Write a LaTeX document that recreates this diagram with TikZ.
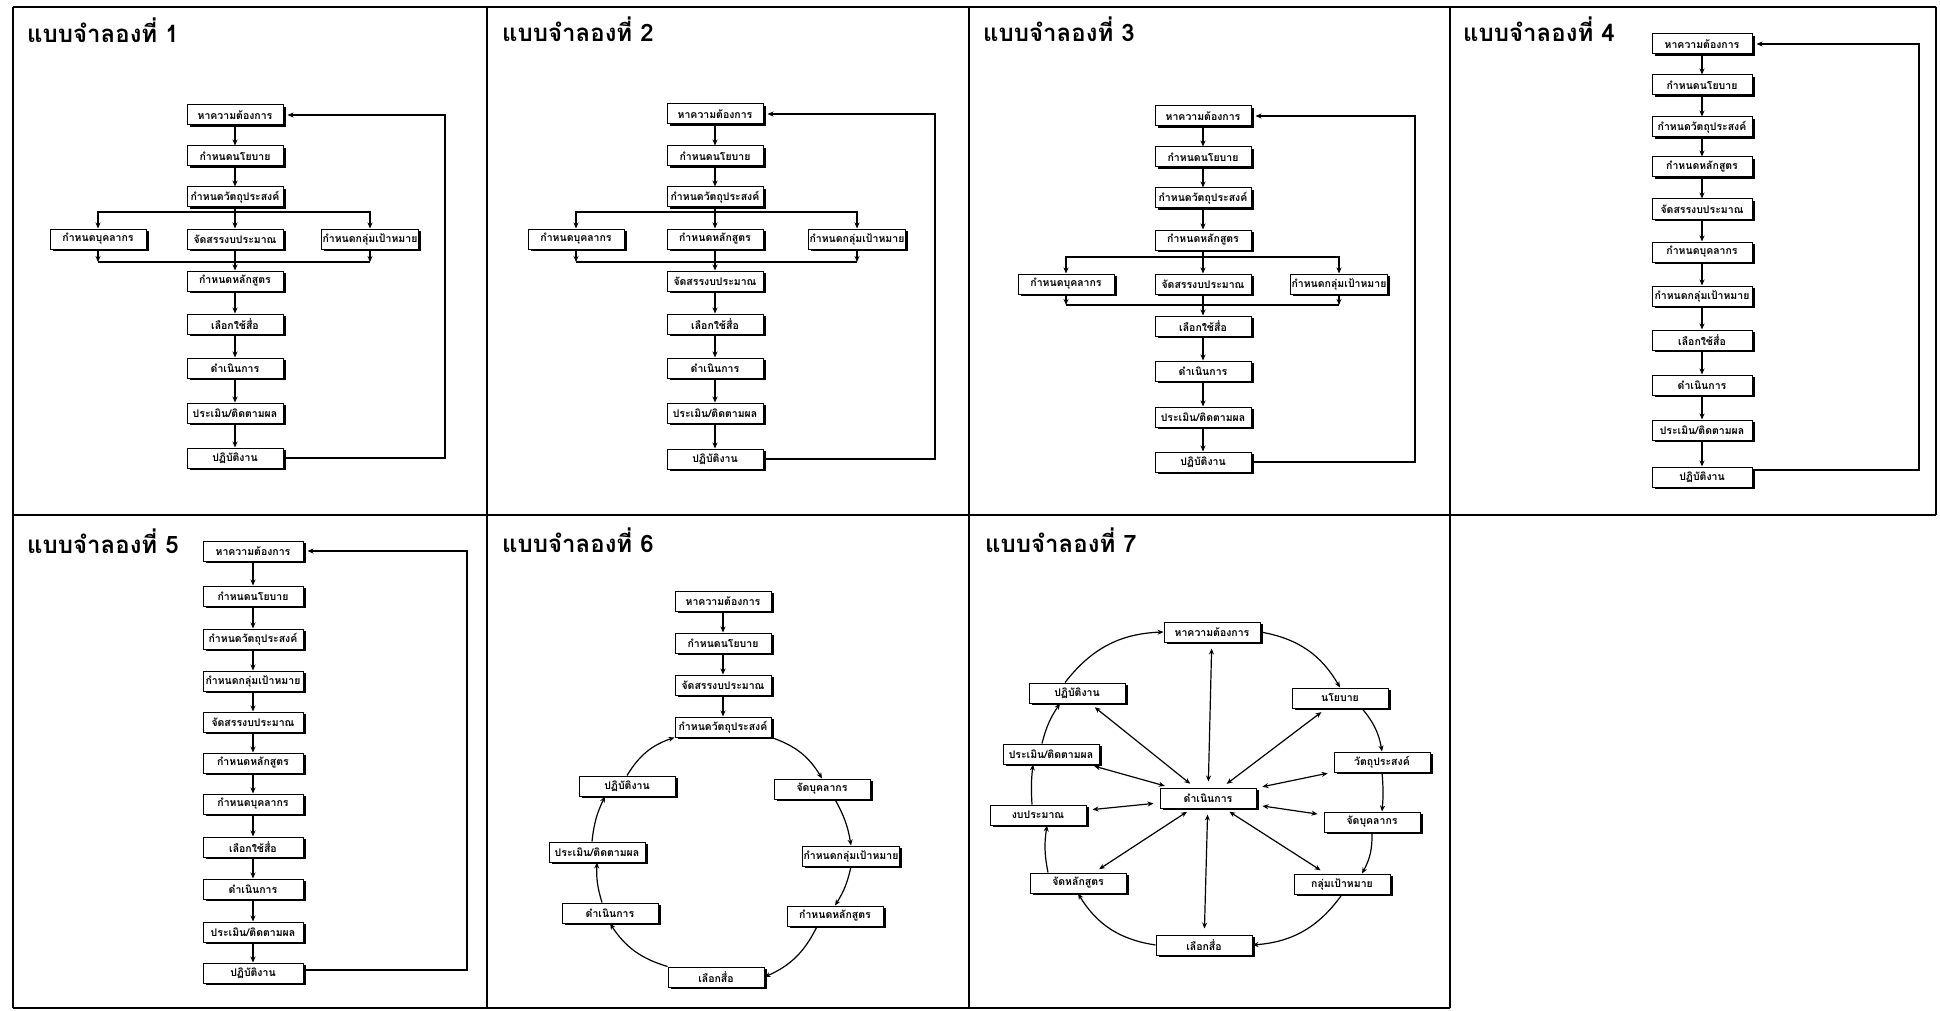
\documentclass[tikz,border=0pt]{standalone}
\usepackage{fontspec}
\newfontfamily\thai[Script=Thai]{Loma}
\usetikzlibrary{arrows.meta,shadows}
\newcommand\Lneed{หาความต้องการ}
\newcommand\Lpol{กำหนดนโยบาย}
\newcommand\Lobj{กำหนดวัตถุประสงค์}
\newcommand\Lper{กำหนดบุคลากร}
\newcommand\Lbud{จัดสรรงบประมาณ}
\newcommand\Ltgt{กำหนดกลุ่มเป้าหมาย}
\newcommand\Lcur{กำหนดหลักสูตร}
\newcommand\Lmed{เลือกใช้สื่อ}
\newcommand\Limp{ดำเนินการ}
\newcommand\Leva{ประเมิน/ติดตามผล}
\newcommand\Lact{ปฏิบัติงาน}
\tikzset{
 bx/.style={draw, line width=1pt, fill=white, minimum width=96pt, minimum height=20pt, inner sep=1pt,
   font=\thai\bfseries\fontsize{10.5}{12}\selectfont,
   drop shadow={shadow xshift=2.5pt, shadow yshift=-2pt, fill=black, opacity=1}},
 bxw/.style={bx, minimum width=100pt},
 ttl/.style={anchor=base west, inner sep=0pt, font=\thai\bfseries\fontsize{24}{28}\selectfont},
 ar/.style={-{Stealth[length=6pt,width=5pt]}, line width=1.2pt},
 fb/.style={ar, shorten >=4pt},
 ln/.style={line width=1.2pt},
 sp/.style={{Stealth[length=6pt,width=5pt]}-{Stealth[length=6pt,width=5pt]}, line width=1.2pt, shorten >=6pt, shorten <=6pt},
 cell/.style={line width=1.8pt},
}
\begin{document}
\begin{tikzpicture}[x=1pt,y=-1pt]
\useasboundingbox (0,0) rectangle (1940,1011);
\fill[white] (0,0) rectangle (1940,1011);
% cell lines
\draw[cell] (13,7) -- (1936,7);
\draw[cell] (13,515) -- (1936,515);
\draw[cell] (13,1008) -- (1450,1008);
\draw[cell] (13,7) -- (13,1008);
\draw[cell] (487,7) -- (487,1008);
\draw[cell] (969,7) -- (969,1008);
\draw[cell] (1450,7) -- (1450,1008);
\draw[cell] (1936,7) -- (1936,515);

% ---------- Panel 1 ----------
\node[ttl] (t1) at (27,43) {แบบจำลองที่ 1};
\node[bx] (p1a) at (235,115) {\Lneed};
\node[bx] (p1b) at (235,156) {\Lpol};
\node[bx] (p1c) at (235,197) {\Lobj};
\node[bx] (p1d) at (98,239) {\Lper};
\node[bx] (p1e) at (235,239) {\Lbud};
\node[bx] (p1f) at (370,239) {\Ltgt};
\node[bx] (p1g) at (235,281) {\Lcur};
\node[bx] (p1h) at (235,324) {\Lmed};
\node[bx] (p1i) at (235,368) {\Limp};
\node[bx] (p1j) at (235,413) {\Leva};
\node[bx] (p1k) at (235,458) {\Lact};
\coordinate (p1s) at (235,212);
\coordinate (p1m) at (235,262);
\coordinate (p1r) at (445,458);
\draw[ar] (p1a) -- (p1b);
\draw[ar] (p1b) -- (p1c);
\draw[ln] (p1c) -- (p1s);
\draw[ar] (p1s) -| (p1d);
\draw[ar] (p1s) -- (p1e);
\draw[ar] (p1s) -| (p1f);
\draw[ar] (p1d) -- (p1d |- p1m);
\draw[ar] (p1f) -- (p1f |- p1m);
\draw[ln] (p1d |- p1m) -- (p1f |- p1m);
\draw[ar] (p1e) -- (p1g);
\draw[ar] (p1g) -- (p1h);
\draw[ar] (p1h) -- (p1i);
\draw[ar] (p1i) -- (p1j);
\draw[ar] (p1j) -- (p1k);
\draw[fb] (p1k) -- (p1r) |- (p1a);

% ---------- Panel 2 ----------
\node[ttl] (t2) at (502,42) {แบบจำลองที่ 2};
\node[bx] (p2a) at (715,114) {\Lneed};
\node[bx] (p2b) at (715,156) {\Lpol};
\node[bx] (p2c) at (715,197) {\Lobj};
\node[bx] (p2d) at (576,239) {\Lper};
\node[bx] (p2e) at (715,239) {\Lcur};
\node[bx] (p2f) at (857,239) {\Ltgt};
\node[bx] (p2g) at (715,281) {\Lbud};
\node[bx] (p2h) at (715,324) {\Lmed};
\node[bx] (p2i) at (715,368) {\Limp};
\node[bx] (p2j) at (715,413) {\Leva};
\node[bx] (p2k) at (715,459) {\Lact};
\coordinate (p2s) at (715,212);
\coordinate (p2m) at (715,262);
\coordinate (p2r) at (935,459);
\draw[ar] (p2a) -- (p2b);
\draw[ar] (p2b) -- (p2c);
\draw[ln] (p2c) -- (p2s);
\draw[ar] (p2s) -| (p2d);
\draw[ar] (p2s) -- (p2e);
\draw[ar] (p2s) -| (p2f);
\draw[ar] (p2d) -- (p2d |- p2m);
\draw[ar] (p2f) -- (p2f |- p2m);
\draw[ln] (p2d |- p2m) -- (p2f |- p2m);
\draw[ar] (p2e) -- (p2g);
\draw[ar] (p2g) -- (p2h);
\draw[ar] (p2h) -- (p2i);
\draw[ar] (p2i) -- (p2j);
\draw[ar] (p2j) -- (p2k);
\draw[fb] (p2k) -- (p2r) |- (p2a);

% ---------- Panel 3 ----------
\node[ttl] (t3) at (983,42) {แบบจำลองที่ 3};
\node[bx] (p3a) at (1203,116) {\Lneed};
\node[bx] (p3b) at (1203,157) {\Lpol};
\node[bx] (p3c) at (1203,198) {\Lobj};
\node[bx] (p3d) at (1203,240) {\Lcur};
\node[bx] (p3e) at (1066,284) {\Lper};
\node[bx] (p3f) at (1203,284) {\Lbud};
\node[bx] (p3g) at (1339,284) {\Ltgt};
\node[bx] (p3h) at (1203,326) {\Lmed};
\node[bx] (p3i) at (1203,371) {\Limp};
\node[bx] (p3j) at (1203,417) {\Leva};
\node[bx] (p3k) at (1203,462) {\Lact};
\coordinate (p3s) at (1203,257);
\coordinate (p3m) at (1203,305);
\coordinate (p3r) at (1415,462);
\draw[ar] (p3a) -- (p3b);
\draw[ar] (p3b) -- (p3c);
\draw[ar] (p3c) -- (p3d);
\draw[ln] (p3d) -- (p3s);
\draw[ar] (p3s) -| (p3e);
\draw[ar] (p3s) -- (p3f);
\draw[ar] (p3s) -| (p3g);
\draw[ar] (p3e) -- (p3e |- p3m);
\draw[ar] (p3g) -- (p3g |- p3m);
\draw[ln] (p3e |- p3m) -- (p3g |- p3m);
\draw[ar] (p3f) -- (p3h);
\draw[ar] (p3h) -- (p3i);
\draw[ar] (p3i) -- (p3j);
\draw[ar] (p3j) -- (p3k);
\draw[fb] (p3k) -- (p3r) |- (p3a);

% ---------- Panel 4 ----------
\node[ttl] (t4) at (1463,42) {แบบจำลองที่ 4};
\node[bxw] (p4a) at (1702,44) {\Lneed};
\node[bxw] (p4b) at (1702,85) {\Lpol};
\node[bxw] (p4c) at (1702,127) {\Lobj};
\node[bxw] (p4d) at (1702,167) {\Lcur};
\node[bxw] (p4e) at (1702,209) {\Lbud};
\node[bxw] (p4f) at (1702,252) {\Lper};
\node[bxw] (p4g) at (1702,296) {\Ltgt};
\node[bxw] (p4h) at (1702,340) {\Lmed};
\node[bxw] (p4i) at (1702,385) {\Limp};
\node[bxw] (p4j) at (1702,430) {\Leva};
\node[bxw] (p4k) at (1702,477) {\Lact};
\coordinate (p4r) at (1919,470);
\foreach \u/\v in {a/b,b/c,c/d,d/e,e/f,f/g,g/h,h/i,i/j,j/k}
  \draw[ar] (p4\u) -- (p4\v);
\draw[fb] (p4k.east |- p4r) -- (p4r) |- (p4a);

% ---------- Panel 5 ----------
\node[ttl] (t5) at (27,553) {แบบจำลองที่ 5};
\node[bxw] (p5a) at (253,551) {\Lneed};
\node[bxw] (p5b) at (253,596) {\Lpol};
\node[bxw] (p5c) at (253,639) {\Lobj};
\node[bxw] (p5d) at (253,681) {\Ltgt};
\node[bxw] (p5e) at (253,722) {\Lbud};
\node[bxw] (p5f) at (253,763) {\Lcur};
\node[bxw] (p5g) at (253,804) {\Lper};
\node[bxw] (p5h) at (253,847) {\Lmed};
\node[bxw] (p5i) at (253,889) {\Limp};
\node[bxw] (p5j) at (253,932) {\Leva};
\node[bxw] (p5k) at (253,973) {\Lact};
\coordinate (p5r) at (467,970);
\foreach \u/\v in {a/b,b/c,c/d,d/e,e/f,f/g,g/h,h/i,i/j,j/k}
  \draw[ar] (p5\u) -- (p5\v);
\draw[fb] (p5k.east |- p5r) -- (p5r) |- (p5a);

% ---------- Panel 6 ----------
\node[ttl] (t6) at (502,552) {แบบจำลองที่ 6};
\node[bx] (p6a) at (723,601) {\Lneed};
\node[bx] (p6b) at (723,643) {\Lpol};
\node[bx] (p6c) at (723,685) {\Lbud};
\node[bx] (p6d) at (723,727) {\Lobj};
\node[bx] (p6e) at (822,789) {จัดบุคลากร};
\node[bx] (p6f) at (851,856) {\Ltgt};
\node[bx] (p6g) at (835,916) {\Lcur};
\node[bx] (p6h) at (716,977) {เลือกสื่อ};
\node[bx] (p6i) at (610,913) {\Limp};
\node[bx] (p6j) at (597,852) {\Leva};
\node[bx] (p6k) at (627,786) {\Lact};
\draw[ar] (p6a) -- (p6b);
\draw[ar] (p6b) -- (p6c);
\draw[ar] (p6c) -- (p6d);
\draw[ar] (p6d.south east) to[bend left=20] (p6e.north);
\draw[ar] ([xshift=13pt]p6e.south) to[bend left=10] (p6f.north);
\draw[ar] (p6f.south) to[bend left=10] (p6g.north);
\draw[ar] ([xshift=-18pt]p6g.south) to[bend left=20] (p6h.east);
\draw[ar] (p6h.north west) to[bend left=20] (p6i.south);
\draw[ar] ([xshift=-8pt]p6i.north) to[bend left=10] (p6j.south);
\draw[ar] ([xshift=-5pt]p6j.north) to[bend left=10] ([xshift=-22pt]p6k.south);
\draw[ar] (p6k.north) to[bend left=20] (p6d.south west);

% ---------- Panel 7 ----------
\node[ttl] (t7) at (985,552) {แบบจำลองที่ 7};
\node[bx] (p7c) at (1208,798) {\Limp};
\node[bx] (p7a) at (1212,632) {\Lneed};
\node[bx] (p7b) at (1340,698) {นโยบาย};
\node[bx] (p7d) at (1382,762) {วัตถุประสงค์};
\node[bx] (p7e) at (1372,822) {จัดบุคลากร};
\node[bx] (p7f) at (1342,884) {กลุ่มเป้าหมาย};
\node[bx] (p7g) at (1204,945) {เลือกสื่อ};
\node[bx] (p7h) at (1078,883) {จัดหลักสูตร};
\node[bx] (p7i) at (1038,815) {งบประมาณ};
\node[bx] (p7j) at (1051,754) {\Leva};
\node[bx] (p7k) at (1077,693) {\Lact};
\foreach \n in {a,b,d,e,f,g,h,i,j,k}
  \draw[sp] (p7c) -- (p7\n);
\draw[ar] (p7a.east) to[bend left=25] (p7b.north);
\draw[ar] ([xshift=22pt]p7b.south) to[bend left=15] (p7d.north);
\draw[ar] (p7d.south) to[bend left=5] ([xshift=10pt]p7e.north);
\draw[ar] (p7e.south) to[bend left=15] ([xshift=20pt]p7f.north);
\draw[ar] (p7f.south) to[bend left=25] (p7g.east);
\draw[ar] (p7g.west) to[bend left=25] (p7h.south);
\draw[ar] ([xshift=-30pt]p7h.north) to[bend left=10] ([xshift=9pt]p7i.south);
\draw[ar] ([xshift=-6pt]p7i.north) to[bend left=5] ([xshift=-18pt]p7j.south);
\draw[ar] ([xshift=-9pt]p7j.north) to[bend left=10] ([xshift=-17pt]p7k.south);
\draw[ar] ([xshift=-12pt]p7k.north) to[bend left=25] (p7a.west);
\end{tikzpicture}
\end{document}
